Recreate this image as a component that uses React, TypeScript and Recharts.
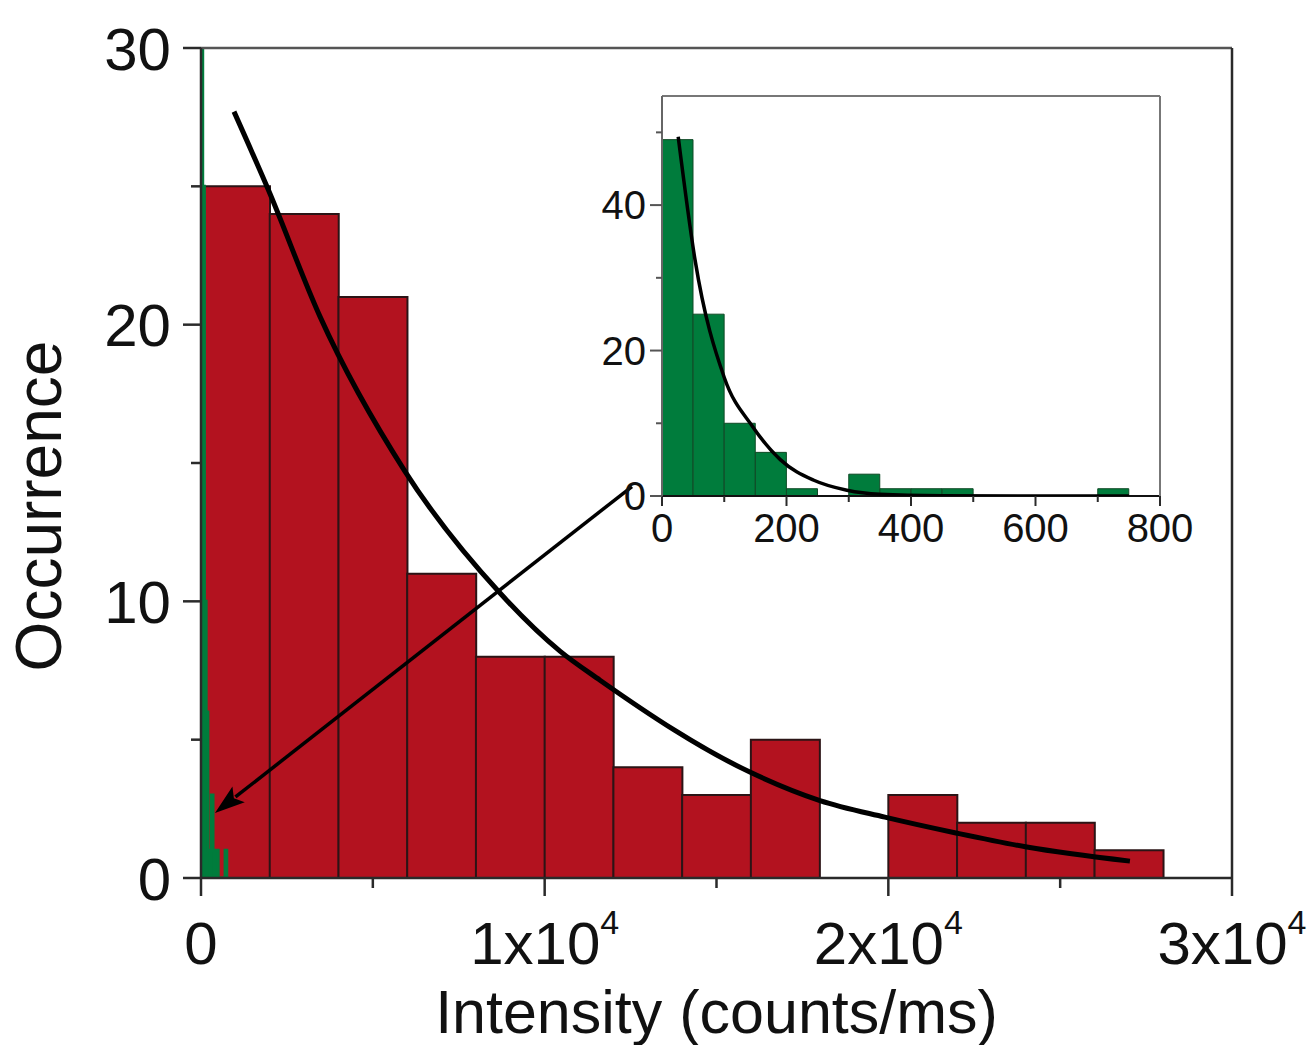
import React from 'react';
import { ComposedChart, Bar, Line, Area, XAxis, YAxis, ReferenceLine, Label } from 'recharts';

// ---------- data ----------
const redBinStarts = [0, 2000, 4000, 6000, 8000, 10000, 12000, 14000, 16000, 18000, 20000, 22000, 24000, 26000, 28000];
const redCounts = [25, 24, 21, 11, 8, 8, 4, 3, 5, 0, 3, 2, 2, 1, 0];

const greenBinStarts = [0, 50, 100, 150, 200, 250, 300, 350, 400, 450, 500, 550, 600, 650, 700, 750];
const greenCounts = [49, 25, 10, 6, 1, 0, 3, 1, 1, 1, 0, 0, 0, 0, 1, 0];
const greenLastEdge = 800;

const redFitX = [960, 1950, 3460, 5935, 8700, 10445, 11610, 15970, 18010, 19900, 22000, 24030, 27030];
const redFitY = [27.7, 24.9, 20.3, 14.7, 10.3, 8.2, 7.15, 3.83, 2.8, 2.2, 1.62, 1.12, 0.61];

const greenFitX = [26, 53, 100, 146, 190, 243, 297, 350, 450, 600, 750];
const greenFitY = [49.4, 32.5, 16.3, 9.5, 5, 2.2, 0.8, 0.25, 0.05, 0, 0];

const arrowFrom = { x: 12540, y: 14.15 };
const arrowTo = { x: 407, y: 2.35 };

const mainXTicks = [0, 5000, 10000, 15000, 20000, 25000, 30000];
const mainXMajor = [0, 10000, 20000, 30000];
const mainXMajorText = ['0', '1x10', '2x10', '3x10'];
const mainXMajorExp = ['', '4', '4', '4'];
const mainYTicks = [0, 5, 10, 15, 20, 25, 30];
const mainYMajor = [0, 10, 20, 30];

const insetXTicks = [0, 100, 200, 300, 400, 500, 600, 700, 800];
const insetXMajor = [0, 200, 400, 600, 800];
const insetYTicks = [0, 10, 20, 30, 40, 50];
const insetYMajor = [0, 20, 40];

// ---------- derived tables ----------
const redData = redBinStarts.map((b, i) => ({ bin: b, count: redCounts[i] }));
const greenBars = greenBinStarts.map((b, i) => ({ bin: b, count: greenCounts[i] }));
const greenStep = [
  ...greenBinStarts.map((b, i) => ({ x: b, y: greenCounts[i] })),
  { x: greenLastEdge, y: 0 },
];
const redFit = redFitX.map((x, i) => ({ x, y: redFitY[i] }));
const greenFit = greenFitX.map((x, i) => ({ x, y: greenFitY[i] }));

const FONT = '"Liberation Sans", Arial, Helvetica, sans-serif';
const RED = '#B3121F';
const GREEN = '#007C3C';
const AXIS = '#2a2a2a';

// ---------- ticks ----------
const MainXTick = (props: any) => {
  const { x, y, payload } = props;
  const v = payload.value;
  const mi = mainXMajor.indexOf(v);
  const major = mi >= 0;
  return (
    <g>
      <line x1={x} x2={x} y1={y} y2={y + (major ? 18 : 10)} stroke={AXIS} strokeWidth={2.5} />
      {major && (
        <text x={x} y={y + 86} textAnchor="middle" fontSize={60} fontFamily={FONT} fill="#111">
          {mainXMajorText[mi]}
          {mainXMajorExp[mi] && (
            <tspan dy={-30} fontSize={34}>
              {mainXMajorExp[mi]}
            </tspan>
          )}
        </text>
      )}
    </g>
  );
};

const MainYTick = (props: any) => {
  const { x, y, payload } = props;
  const v = payload.value;
  const major = mainYMajor.includes(v);
  return (
    <g>
      <line x1={x} x2={x - (major ? 18 : 10)} y1={y} y2={y} stroke={AXIS} strokeWidth={2.5} />
      {major && (
        <text x={x - 30} y={y} dy="0.36em" textAnchor="end" fontSize={60} fontFamily={FONT} fill="#111">
          {v}
        </text>
      )}
    </g>
  );
};

const InsetXTick = (props: any) => {
  const { x, y, payload } = props;
  const v = payload.value;
  const major = insetXMajor.includes(v);
  return (
    <g>
      <line x1={x} x2={x} y1={y} y2={y + (major ? 10 : 6)} stroke={AXIS} strokeWidth={2} />
      {major && (
        <text x={x} y={y + 46} textAnchor="middle" fontSize={40} fontFamily={FONT} fill="#111">
          {v}
        </text>
      )}
    </g>
  );
};

const InsetYTick = (props: any) => {
  const { x, y, payload } = props;
  const v = payload.value;
  const major = insetYMajor.includes(v);
  return (
    <g>
      <line x1={x} x2={x - (major ? 12 : 6)} y1={y} y2={y} stroke="#555" strokeWidth={2} />
      {major && (
        <text x={x - 16} y={y} dy="0.36em" textAnchor="end" fontSize={40} fontFamily={FONT} fill="#111">
          {v}
        </text>
      )}
    </g>
  );
};

const ArrowShape = (props: any) => {
  const { x1, y1, x2, y2 } = props;
  if ([x1, y1, x2, y2].some((n) => typeof n !== 'number' || isNaN(n))) return null;
  const dx = x2 - x1;
  const dy = y2 - y1;
  const len = Math.sqrt(dx * dx + dy * dy) || 1;
  const ux = dx / len;
  const uy = dy / len;
  const headLen = 30;
  const headW = 10;
  const bx = x2 - ux * headLen;
  const by = y2 - uy * headLen;
  const px = -uy;
  const py = ux;
  return (
    <g>
      <line x1={x1} y1={y1} x2={bx + ux * 4} y2={by + uy * 4} stroke="#000" strokeWidth={3.5} />
      <polygon
        points={`${x2},${y2} ${bx + px * headW},${by + py * headW} ${bx + ux * 6},${by + uy * 6} ${bx - px * headW},${by - py * headW}`}
        fill="#000"
      />
    </g>
  );
};

const XTitle = (props: any) => {
  const vb = props.viewBox || { x: 201, y: 878, width: 1031, height: 0 };
  return (
    <text x={vb.x + vb.width / 2} y={878 + 155} textAnchor="middle" fontSize={61} fontFamily={FONT} fill="#111">
      Intensity (counts/ms)
    </text>
  );
};

const YTitle = () => {
  const cx = 61;
  const cy = 506;
  return (
    <text
      x={cx}
      y={cy}
      transform={`rotate(-90, ${cx}, ${cy})`}
      textAnchor="middle"
      fontSize={64}
      fontFamily={FONT}
      fill="#111"
    >
      Occurrence
    </text>
  );
};

export default function App() {
  return (
    <div style={{ position: 'absolute', left: 0, top: 0, width: 1316, height: 1045, background: '#fff' }}>
      <div style={{ position: 'absolute', left: 0, top: 0 }}>
        <ComposedChart
          width={1316}
          height={1045}
          data={redData}
          margin={{ top: 47, left: 200, right: 83, bottom: 166 }}
          barCategoryGap={0}
          barGap={0}
        >
          <XAxis
            xAxisId="num"
            dataKey="x"
            type="number"
            domain={[0, 30000]}
            ticks={mainXTicks}
            interval={0}
            height={1}
            tickSize={0}
            tickMargin={0}
            tickLine={false}
            axisLine={{ stroke: AXIS, strokeWidth: 2.5 }}
            tick={<MainXTick />}
            allowDataOverflow
          >
            <Label content={<XTitle />} />
          </XAxis>
          <XAxis xAxisId="cat" dataKey="bin" type="category" hide height={0} />
          <XAxis
            xAxisId="top"
            orientation="top"
            type="number"
            domain={[0, 30000]}
            height={1}
            tick={false}
            tickLine={false}
            axisLine={{ stroke: '#555', strokeWidth: 2.5 }}
          />
          <YAxis
            type="number"
            domain={[0, 30]}
            ticks={mainYTicks}
            interval={0}
            width={1}
            tickSize={0}
            tickMargin={0}
            tickLine={false}
            axisLine={{ stroke: AXIS, strokeWidth: 2.5 }}
            tick={<MainYTick />}
            allowDataOverflow
          >
            <Label content={<YTitle />} />
          </YAxis>
          <YAxis
            yAxisId="right"
            orientation="right"
            type="number"
            domain={[0, 30]}
            width={1}
            tick={false}
            tickLine={false}
            axisLine={{ stroke: AXIS, strokeWidth: 2.5 }}
          />
          <Bar
            xAxisId="cat"
            dataKey="count"
            fill={RED}
            stroke="#2b1416"
            strokeWidth={2}
            isAnimationActive={false}
          />
          <Area
            xAxisId="num"
            data={greenStep}
            dataKey="y"
            type="stepAfter"
            fill={GREEN}
            fillOpacity={1}
            stroke={GREEN}
            strokeWidth={3}
            isAnimationActive={false}
            dot={false}
            activeDot={false}
            zIndex={450}
          />
          <Line
            xAxisId="num"
            data={redFit}
            dataKey="y"
            type="monotone"
            stroke="#000"
            strokeWidth={5}
            dot={false}
            activeDot={false}
            isAnimationActive={false}
            zIndex={500}
          />
          <ReferenceLine
            xAxisId="num"
            segment={[arrowFrom, arrowTo]}
            stroke="#000"
            strokeWidth={3}
            shape={<ArrowShape />}
            ifOverflow="visible"
            zIndex={600}
          />
        </ComposedChart>
      </div>

      <div style={{ position: 'absolute', left: 580, top: 70 }}>
        <ComposedChart
          width={650}
          height={500}
          data={greenBars}
          margin={{ top: 25, left: 81, right: 69, bottom: 73 }}
          barCategoryGap={0}
          barGap={0}
        >
          <XAxis
            xAxisId="num"
            dataKey="x"
            type="number"
            domain={[0, 800]}
            ticks={insetXTicks}
            interval={0}
            height={1}
            tickSize={0}
            tickMargin={0}
            tickLine={false}
            axisLine={{ stroke: '#111', strokeWidth: 2 }}
            tick={<InsetXTick />}
            allowDataOverflow
          />
          <XAxis xAxisId="cat" dataKey="bin" type="category" hide height={0} />
          <XAxis
            xAxisId="top"
            orientation="top"
            type="number"
            domain={[0, 800]}
            height={1}
            tick={false}
            tickLine={false}
            axisLine={{ stroke: '#777', strokeWidth: 2 }}
          />
          <YAxis
            type="number"
            domain={[0, 55]}
            ticks={insetYTicks}
            interval={0}
            width={1}
            tickSize={0}
            tickMargin={0}
            tickLine={false}
            axisLine={{ stroke: '#666', strokeWidth: 2 }}
            tick={<InsetYTick />}
            allowDataOverflow
          />
          <YAxis
            yAxisId="right"
            orientation="right"
            type="number"
            domain={[0, 55]}
            width={1}
            tick={false}
            tickLine={false}
            axisLine={{ stroke: '#777', strokeWidth: 2 }}
          />
          <Bar
            xAxisId="cat"
            dataKey="count"
            fill={GREEN}
            stroke="#0f4a26"
            strokeWidth={1}
            isAnimationActive={false}
          />
          <Line
            xAxisId="num"
            data={greenFit}
            dataKey="y"
            type="monotone"
            stroke="#000"
            strokeWidth={3.5}
            dot={false}
            activeDot={false}
            isAnimationActive={false}
            zIndex={500}
          />
        </ComposedChart>
      </div>
    </div>
  );
}
